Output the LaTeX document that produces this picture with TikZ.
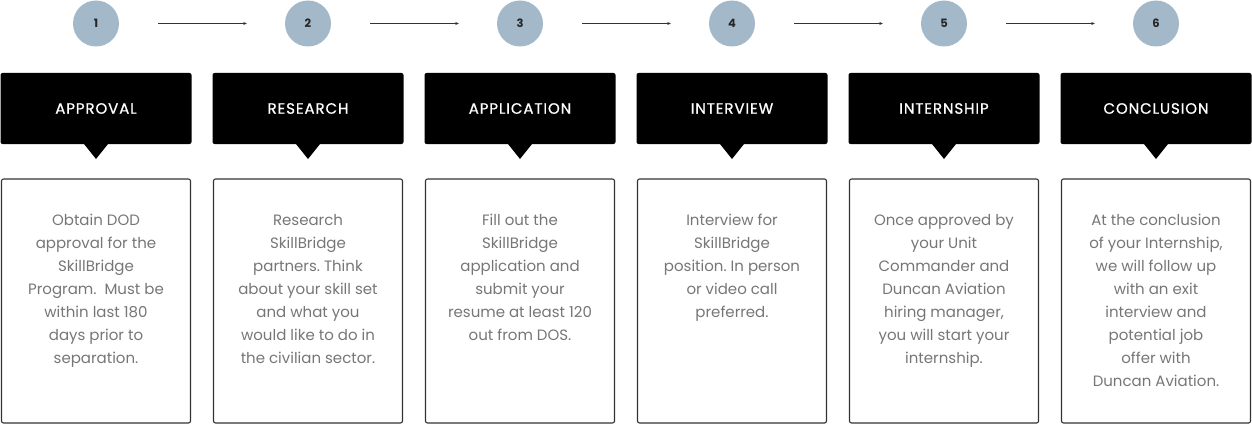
\documentclass[tikz,border=0pt]{standalone}
\usepackage{fontspec}
\setmainfont{Poppins}
\newfontfamily\headfont[LetterSpace=6,FakeBold=0.8]{Poppins}
\newfontfamily\bodyfont{Poppins}
\usetikzlibrary{arrows.meta,calc}
\definecolor{circ}{HTML}{A3B8C8}
\definecolor{bodygray}{HTML}{767676}
\definecolor{frame}{HTML}{333333}
\tikzset{
  stepnum/.style={circle, fill=circ, minimum size=46pt, inner sep=0pt, font=\fontsize{11.5}{13}\selectfont\bfseries, text=black!85},
  flowarrow/.style={draw=black!80, line width=0.7pt, -{Stealth[length=3.5pt,width=3pt]}, shorten <=39pt, shorten >=38pt},
  headbox/.style={fill=black, rounded corners=2pt, minimum width=191pt, minimum height=71pt, inner sep=0pt, text=white, font=\headfont\fontsize{15}{18}\selectfont},
  textbox/.style={draw=frame, line width=1.1pt, rounded corners=2pt, minimum width=189pt, minimum height=244pt, inner sep=0pt},
  bodytext/.style={text=bodygray, align=center, font=\bodyfont\fontsize{15}{23}\selectfont\frenchspacing, anchor=north, inner sep=0pt}
}
\begin{document}
\begin{tikzpicture}[x=1pt,y=-1pt]
\useasboundingbox (0,0) rectangle (1252,425);
\foreach \i/\h/\t in {
 1/APPROVAL/{Obtain DOD\\approval for the\\SkillBridge\\Program.\ \ Must be\\within last 180\\days prior to\\separation.},
 2/RESEARCH/{Research\\SkillBridge\\partners. Think\\about your skill set\\and what you\\would like to do in\\the civilian sector.},
 3/APPLICATION/{Fill out the\\SkillBridge\\application and\\submit your\\resume at least 120\\out from DOS.},
 4/INTERVIEW/{Interview for\\SkillBridge\\position. In person\\or video call\\preferred.},
 5/INTERNSHIP/{Once approved by\\your Unit\\Commander and\\Duncan Aviation\\hiring manager,\\you will start your\\internship.},
 6/CONCLUSION/{At the conclusion\\of your Internship,\\we will follow up\\with an exit\\interview and\\potential job\\offer with\\Duncan Aviation.}}{
  \pgfmathsetmacro{\cx}{96+212*(\i-1)}
  \node[stepnum] (c\i) at (\cx,23.5) {\i};
  \node[headbox] (h\i) at (\cx,108.5) {\h};
  \fill (\cx-12,144) -- (\cx+12,144) -- (\cx,159) -- cycle;
  \node[textbox] (b\i) at (\cx,301) {};
  \node[bodytext] (t\i) at (\cx,214) {\t};
}
\foreach \a/\b in {1/2,2/3,3/4,4/5,5/6}{
  \draw[flowarrow] (c\a) -- (c\b);
}
\end{tikzpicture}
\end{document}
